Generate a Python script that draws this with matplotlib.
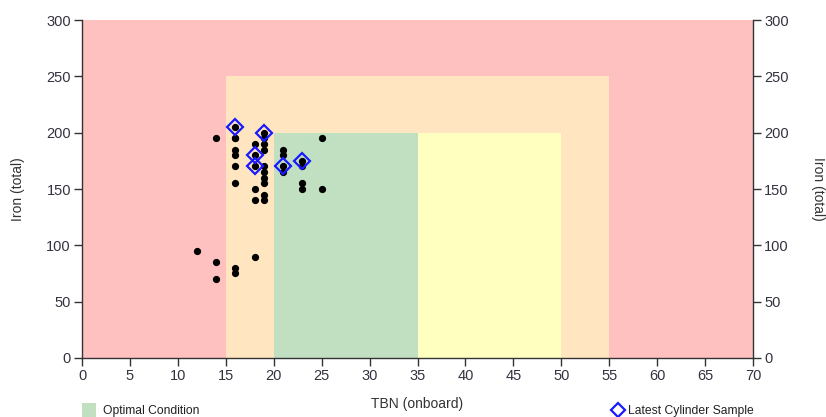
import matplotlib
matplotlib.use("Agg")
import matplotlib.pyplot as plt
from matplotlib.patches import Rectangle
from matplotlib.lines import Line2D

plt.rcParams['font.family'] = ['Liberation Sans', 'DejaVu Sans']

# Condition zones: (x0, x1, y0, y1, colour)
zone_x0 = [0, 15, 20, 35]
zone_x1 = [70, 55, 35, 50]
zone_y1 = [300, 250, 200, 200]
zone_colors = ['#FFC0C0', '#FFE5C0', '#C1E0C1', '#FFFFC0']

# All samples
tbn = [16, 16, 14, 16, 16, 16, 16, 16,
       18, 18, 18, 18, 18,
       19, 19, 19, 19, 19, 19, 19, 19, 19, 19,
       21, 21, 21, 21,
       23, 23, 23, 23,
       25, 25,
       12, 14, 14, 16, 16, 18]
iron = [205, 195, 195, 185, 180, 170, 155, 195,
        190, 180, 170, 150, 140,
        200, 195, 190, 185, 170, 165, 160, 155, 145, 140,
        185, 180, 170, 165,
        175, 170, 155, 150,
        195, 150,
        95, 85, 70, 80, 75, 90]

# Latest cylinder samples
latest_tbn = [16, 19, 18, 18, 21, 23]
latest_iron = [205, 200, 180, 170, 170, 175]

fig = plt.figure(figsize=(8.26, 4.17), dpi=100)
ax = fig.add_axes([0.0993, 0.1415, 0.8123, 0.8105])

for x0, x1, y1, c in zip(zone_x0, zone_x1, zone_y1, zone_colors):
    ax.add_patch(Rectangle((x0, 0), x1 - x0, y1, facecolor=c, edgecolor='none', zorder=0))

ax.plot(tbn, iron, 'o', color='black', markersize=4.2, linestyle='none', zorder=3)
ax.plot(latest_tbn, latest_iron, 'D', markerfacecolor='none', markeredgecolor='#1a1aff',
        markeredgewidth=1.6, markersize=8, linestyle='none', zorder=4)

ax.set_xlim(0, 70)
ax.set_ylim(0, 300)
ax.set_xticks(range(0, 71, 5))
ax.set_yticks(range(0, 301, 50))

tick_col = '#333340'
for s in ['left', 'right', 'bottom']:
    ax.spines[s].set_color('#333333')
    ax.spines[s].set_linewidth(1.0)
ax.spines['top'].set_visible(False)
ax.tick_params(axis='both', direction='out', length=6, width=1, color='#333333',
               labelcolor=tick_col, labelsize=10.5, pad=2)
ax.tick_params(axis='y', right=True, labelright=True)

ax.set_xlabel('TBN (onboard)', fontsize=10, color='#333333', labelpad=10)
yc = 1 - 189 / 417
fig.text(18 / 826, yc, 'Iron (total)', rotation=90, fontsize=10,
         color='#333333', ha='center', va='center')
fig.text(818 / 826, yc, 'Iron (total)', rotation=-90, fontsize=10,
         color='#333333', ha='center', va='center')

# Legend (partially visible at bottom)
fig.patches.append(Rectangle((82 / 826, 0), 14 / 826, 14 / 417,
                             transform=fig.transFigure, facecolor='#C1E0C1',
                             edgecolor='none', figure=fig))
fig.text(103 / 826, 1 - 411 / 417, 'Optimal Condition', fontsize=8.7, color='#222222',
         ha='left', va='center')
fig.lines.append(Line2D([618 / 826], [1 - 410 / 417], marker='D', markerfacecolor='none',
                        markeredgecolor='#1a1aff', markeredgewidth=1.6, markersize=7,
                        transform=fig.transFigure, figure=fig))
fig.text(628 / 826, 1 - 411 / 417, 'Latest Cylinder Sample', fontsize=8.7, color='#222222',
         ha='left', va='center')

fig.savefig('out.png', dpi=100)
